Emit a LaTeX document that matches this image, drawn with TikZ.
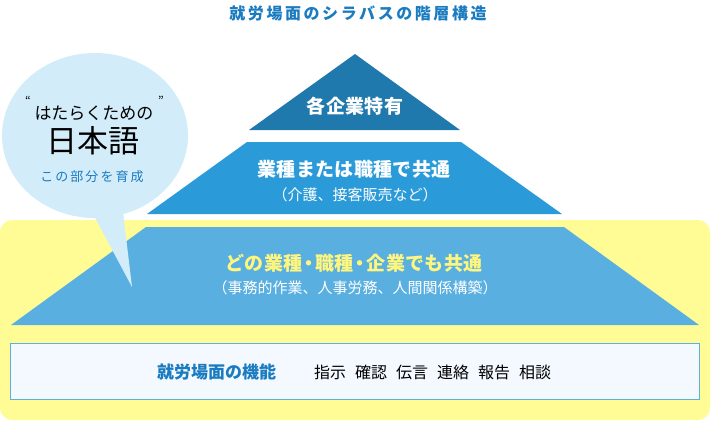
\documentclass[tikz,border=0pt]{standalone}
\usepackage{fontspec}
\setmainfont{Noto Sans CJK JP}
\newfontfamily\jp{Noto Sans CJK JP}
\newfontfamily\jpsp[LetterSpace=16]{Noto Sans CJK JP}
\newfontfamily\jph[LetterSpace=2]{Noto Sans CJK JP}
\definecolor{titleblue}{HTML}{1B7BC0}
\definecolor{cone}{HTML}{2079AD}
\definecolor{ctwo}{HTML}{2A9BD8}
\definecolor{cthree}{HTML}{5AAFE1}
\definecolor{yel}{HTML}{FFFC96}
\definecolor{bub}{HTML}{D2ECFA}
\definecolor{boxfill}{HTML}{F3F9FF}
\definecolor{boxline}{HTML}{5AB0E5}
\definecolor{ytext}{HTML}{FFF67E}
\newcommand{\nakaguro}{\kern-3pt・\kern-3pt}
\newcommand{\gapw}{\hspace{9pt}}
\tikzset{
  titletxt/.style={inner sep=0pt, font=\jpsp\bfseries\fontsize{16pt}{18pt}\selectfont},
  headtxt/.style={inner sep=0pt, font=\jph\bfseries\fontsize{19pt}{21pt}\selectfont},
  subtxt/.style={inner sep=0pt, text=white, font=\jp\fontsize{15pt}{17pt}\selectfont},
}
\begin{document}
\begin{tikzpicture}[x=1pt,y=-1pt]
\useasboundingbox (0,0) rectangle (711,421);
% yellow area
\fill[yel, rounded corners=12pt] (0,220) rectangle (710,420);
% pyramid
\fill[cone] (355,54) -- (460,130) -- (249,130) -- cycle;
\fill[ctwo] (247,142) -- (461,142) -- (562,214) -- (147,214) -- cycle;
\fill[cthree] (146,227) -- (564,227) -- (699,325) -- (11,325) -- cycle;
% bottom box
\draw[boxline, fill=boxfill, line width=1pt] (10,343) rectangle (699,399);
% speech bubble
\fill[bub] (95,135.5) ellipse [x radius=93pt, y radius=82.5pt];
\fill[bub] (92,212) -- (123,212) -- (132,287) -- cycle;

% texts
\node[titletxt, text=titleblue] (title) at (358,13) {就労場面のシラバスの階層構造};
\node[headtxt, text=white] (top) at (355,106) {各企業特有};
\node[headtxt, text=white] (midh) at (354,169) {業種または職種で共通};
\node[subtxt] (mids) at (355,195) {（介護、接客販売など）};
\node[headtxt, text=ytext] (lowh) at (354,263) {どの業種\nakaguro 職種\nakaguro 企業でも共通};
\node[subtxt] (lows) at (355,288) {（事務的作業、人事労務、人間関係構築）};
\node[inner sep=0pt, text=titleblue, anchor=west, font=\jp\bfseries\fontsize{17pt}{19pt}\selectfont] (func) at (157,372) {就労場面の機能};
\node[inner sep=0pt, anchor=west, font=\jp\fontsize{16pt}{18pt}\selectfont] (acts) at (314,372) {指示\gapw 確認\gapw 伝言\gapw 連絡\gapw 報告\gapw 相談};
% bubble texts
\node[inner sep=0pt, font=\jp\fontsize{17pt}{19pt}\selectfont] (hata) at (94,113) {はたらくための};
\node[inner sep=0pt, font=\jp\fontsize{12pt}{12pt}\selectfont] (ql) at (28,101) {“};
\node[inner sep=0pt, font=\jp\fontsize{12pt}{12pt}\selectfont] (qr) at (161,101) {”};
\node[inner sep=0pt, font=\jp\fontsize{31pt}{33pt}\selectfont] (nihongo) at (93,141) {日本語};
\node[inner sep=0pt, text=titleblue, font=\jpsp\fontsize{13pt}{15pt}\selectfont] (ikusei) at (92,177) {この部分を育成};
\end{tikzpicture}
\end{document}
